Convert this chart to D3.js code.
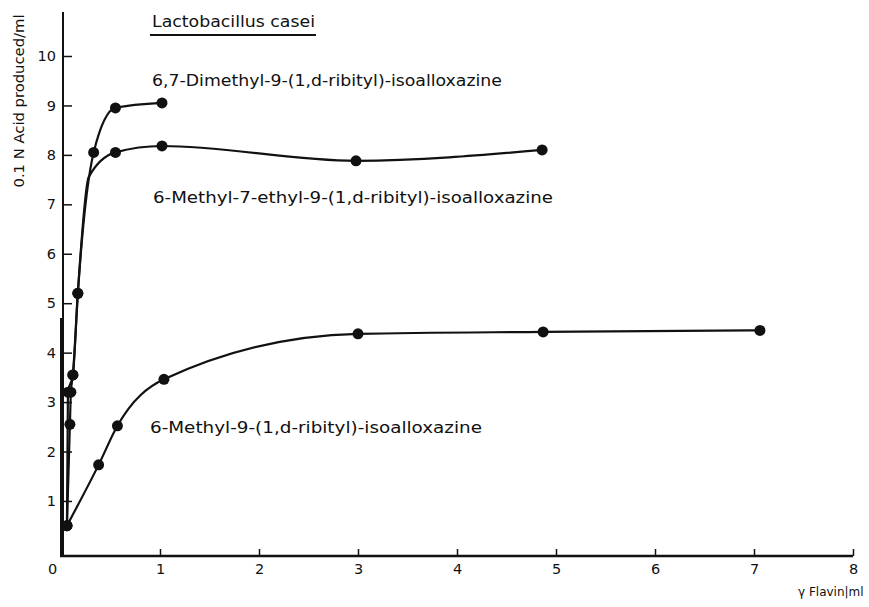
<!DOCTYPE html>
<html>
<head>
<meta charset="utf-8">
<script src="https://cdn.jsdelivr.net/npm/d3@7"></script>
<style>
  body { margin: 0; background: #fff; }
  svg text { font-family: "DejaVu Sans", sans-serif; fill: #111; }
</style>
</head>
<body>
<svg id="drawing_region"></svg>
<script>
// values (flavin in gamma/ml, acid in ml 0.1 N)
const xTicks = [0, 1, 2, 3, 4, 5, 6, 7, 8];
const yTicks = [1, 2, 3, 4, 5, 6, 7, 8, 9, 10];

const seriesNames = [
    "6,7-Dimethyl-9-(1,d-ribityl)-isoalloxazine",
    "6-Methyl-7-ethyl-9-(1,d-ribityl)-isoalloxazine",
    "6-Methyl-9-(1,d-ribityl)-isoalloxazine"
];

const dimethylFlavin = [0.06, 0.09, 0.10, 0.12, 0.17, 0.33, 0.55, 1.02];
const dimethylAcid   = [0.5, 2.55, 3.2, 3.55, 5.2, 8.05, 8.95, 9.05];
const dimethylDot    = [1, 1, 1, 1, 1, 1, 1, 1];

const ethylFlavin = [0.06, 0.07, 0.12, 0.17, 0.28, 0.55, 1.02, 2.98, 4.86];
const ethylAcid   = [0.5, 3.2, 3.55, 5.2, 7.55, 8.05, 8.18, 7.88, 8.10];
const ethylDot    = [1, 1, 1, 1, 0, 1, 1, 1, 1];

const methylFlavin = [0.06, 0.38, 0.57, 1.04, 3.0, 4.87, 7.06];
const methylAcid   = [0.5, 1.73, 2.52, 3.46, 4.38, 4.42, 4.45];
const methylDot    = [1, 1, 1, 1, 1, 1, 1];

const config = {
    width: 869,
    height: 607,
    xRange: [61, 853],
    yRange: [550.4, 56],
    axisY: 556,
    axisX: 63
};

const zip = (xs, ys, ds) => xs.map((x, i) => ({ x: x, y: ys[i], dot: ds[i] }));
const series = [
    zip(dimethylFlavin, dimethylAcid, dimethylDot),
    zip(ethylFlavin, ethylAcid, ethylDot),
    zip(methylFlavin, methylAcid, methylDot)
];

// label placement (left x, baseline y, width)
const labelPos = [
    { x: 152, y: 86, w: 350 },
    { x: 153, y: 203, w: 400 },
    { x: 150, y: 433, w: 332 }
];

const svg = d3.select('#drawing_region')
    .attr('width', config.width)
    .attr('height', config.height);

const x = d3.scaleLinear().domain([0, 8]).range(config.xRange);
const y = d3.scaleLinear().domain([0, 10]).range(config.yRange);

// x axis, ticks pointing up
const xAxis = svg.append('g')
    .attr('transform', `translate(0, ${config.axisY})`)
    .call(d3.axisBottom(x).tickValues(xTicks).tickSize(-7).tickSizeOuter(0).tickPadding(10));
xAxis.select('.domain')
    .attr('d', `M${x(0) - 1},0H${x(8)}`)
    .attr('stroke', '#111').attr('stroke-width', 2.6);
xAxis.selectAll('.tick line').attr('stroke', '#111').attr('stroke-width', 1.5);
xAxis.selectAll('.tick text')
    .attr('font-size', 14.5)
    .attr('dy', '0.71em')
    .attr('y', 8);
xAxis.selectAll('.tick').filter(d => d === 0).select('text').attr('x', -9);

// y axis, ticks pointing right
const yAxis = svg.append('g')
    .attr('transform', `translate(${config.axisX}, 0)`)
    .call(d3.axisLeft(y).tickValues(yTicks).tickSize(0).tickPadding(6));
yAxis.select('.domain')
    .attr('d', `M0,12V${config.axisY + 1}`)
    .attr('stroke', '#111').attr('stroke-width', 2);
yAxis.selectAll('.tick').append('line')
    .attr('x1', 0).attr('x2', 9)
    .attr('stroke', '#111').attr('stroke-width', 1.5);
yAxis.selectAll('.tick text').attr('font-size', 14.5).attr('x', -7);

// second (offset) axis stroke visible at the lower left of the scan
svg.append('line')
    .attr('x1', config.axisX - 2).attr('x2', config.axisX - 2)
    .attr('y1', y(4.7)).attr('y2', config.axisY + 1)
    .attr('stroke', '#111').attr('stroke-width', 2);

const line = d3.line()
    .x(d => x(d.x))
    .y(d => y(d.y))
    .curve(d3.curveMonotoneX);

svg.selectAll('path.curve')
    .data(series)
    .enter()
    .append('path')
    .attr('class', 'curve')
    .attr('d', line)
    .attr('fill', 'none')
    .attr('stroke', '#111')
    .attr('stroke-width', 2.2);

svg.selectAll('g.dots')
    .data(series)
    .enter()
    .append('g')
    .attr('class', 'dots')
    .selectAll('circle')
    .data(d => d.filter(p => p.dot))
    .enter()
    .append('circle')
    .attr('cx', d => x(d.x))
    .attr('cy', d => y(d.y))
    .attr('r', 5.5)
    .attr('fill', '#111');

svg.selectAll('text.series')
    .data(seriesNames)
    .enter()
    .append('text')
    .attr('class', 'series')
    .attr('x', (d, i) => labelPos[i].x)
    .attr('y', (d, i) => labelPos[i].y)
    .attr('textLength', (d, i) => labelPos[i].w)
    .attr('lengthAdjust', 'spacingAndGlyphs')
    .attr('font-size', 15.5)
    .text(d => d);

// title
svg.append('text')
    .attr('x', 152).attr('y', 27)
    .attr('textLength', 163)
    .attr('lengthAdjust', 'spacingAndGlyphs')
    .attr('font-size', 15.5)
    .text('Lactobacillus casei');
svg.append('line')
    .attr('x1', 150).attr('x2', 316)
    .attr('y1', 35).attr('y2', 35)
    .attr('stroke', '#111').attr('stroke-width', 2);

// axis titles
svg.append('text')
    .attr('transform', 'translate(24, 101) rotate(-90)')
    .attr('text-anchor', 'middle')
    .attr('textLength', 173)
    .attr('lengthAdjust', 'spacingAndGlyphs')
    .attr('font-size', 14.5)
    .text('0.1 N Acid produced/ml');

svg.append('text')
    .attr('x', 798).attr('y', 596)
    .attr('font-size', 12)
    .text('γ Flavin|ml');
</script>
</body>
</html>
